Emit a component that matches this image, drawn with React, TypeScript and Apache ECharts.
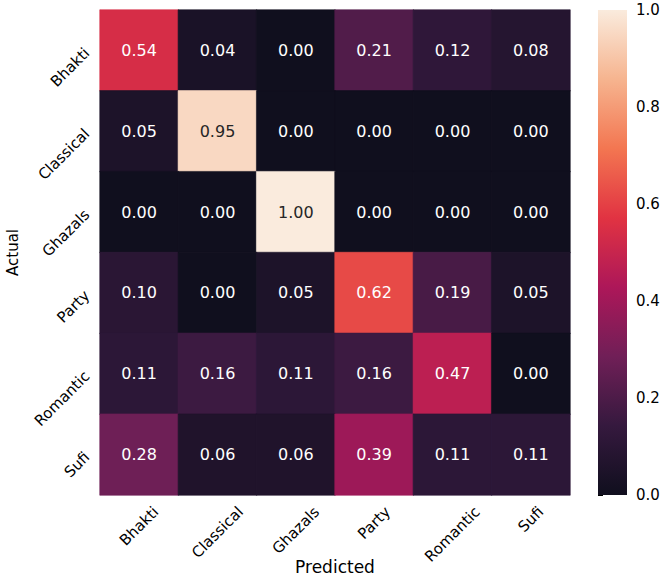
import React, { useEffect, useRef } from "react";
import * as echarts from "echarts";

// Confusion matrix of genre predictions (row-normalised)
const categories = ["Bhakti", "Classical", "Ghazals", "Party", "Romantic", "Sufi"];
const rowBhakti = [0.54, 0.04, 0.0, 0.21, 0.12, 0.08];
const rowClassical = [0.05, 0.95, 0.0, 0.0, 0.0, 0.0];
const rowGhazals = [0.0, 0.0, 1.0, 0.0, 0.0, 0.0];
const rowParty = [0.1, 0.0, 0.05, 0.62, 0.19, 0.05];
const rowRomantic = [0.11, 0.16, 0.11, 0.16, 0.47, 0.0];
const rowSufi = [0.28, 0.06, 0.06, 0.39, 0.11, 0.11];
const matrix = [rowBhakti, rowClassical, rowGhazals, rowParty, rowRomantic, rowSufi];

const colorbarTicks = [0, 0.2, 0.4, 0.6, 0.8, 1.0];

// "rocket"-style sequential palette, evenly spaced from 0 to 1
const rocket = ["#100f1e", "#35193e", "#701f57", "#ad1759", "#e13342", "#f37651", "#f6b48f", "#faebdd"];

const FONT = "DejaVu Sans";
const TICK_SIZE = 15;

function measure(text: string, size: number): number {
  const c = document.createElement("canvas");
  const ctx = c.getContext("2d");
  if (!ctx) return text.length * size * 0.6;
  ctx.font = `${size}px "${FONT}"`;
  return ctx.measureText(text).width;
}

export default function App() {
  const ref = useRef<HTMLDivElement>(null);

  useEffect(() => {
    if (!ref.current) return;
    const chart = echarts.init(ref.current, undefined, { renderer: "svg" });

    const cells: any[] = [];
    matrix.forEach((row, r) => {
      row.forEach((v, c) => {
        // a hairline border in the cell's own colour hides anti-aliasing seams between cells
        const edge = echarts.color.lerp(v, rocket) as string;
        cells.push({
          value: [c, r, v],
          itemStyle: { borderColor: edge, borderWidth: 0.6 },
          label: { color: v > 0.8 ? "#262626" : "#ffffff" },
        });
      });
    });

    const labelWidths = categories.map((name) => measure(name, TICK_SIZE));
    const gradientStops = rocket.map((color, i) => ({ offset: i / (rocket.length - 1), color }));

    chart.setOption({
      animation: false,
      backgroundColor: "#ffffff",
      textStyle: { fontFamily: FONT },
      grid: [
        { left: 100, top: 10, width: 470, height: 485, outerBoundsMode: "none", containLabel: false },
        { left: 598, top: 10, width: 29, height: 485, outerBoundsMode: "none", containLabel: false },
      ],
      xAxis: [
        {
          type: "category",
          gridIndex: 0,
          data: categories,
          name: "Predicted",
          nameLocation: "middle",
          nameGap: 63,
          nameTextStyle: { fontSize: 17, color: "#000", fontFamily: FONT },
          axisLine: { show: false },
          axisTick: { show: false },
          splitLine: { show: false },
          // tick names are drawn by the label series below, centred under each column
          axisLabel: { show: false },
        },
        { type: "value", gridIndex: 1, min: 0, max: 1, show: false },
      ],
      yAxis: [
        {
          type: "category",
          gridIndex: 0,
          inverse: true,
          data: categories,
          name: "Actual",
          nameLocation: "middle",
          nameGap: 80,
          nameTextStyle: { fontSize: 15, color: "#000", fontFamily: FONT },
          axisLine: { show: false },
          axisTick: { show: false },
          splitLine: { show: false },
          axisLabel: {
            interval: 0,
            rotate: 45,
            margin: 13,
            fontSize: TICK_SIZE,
            color: "#000",
            fontFamily: FONT,
          },
        },
        {
          type: "value",
          gridIndex: 1,
          min: 0,
          max: 1,
          interval: 0.2,
          position: "right",
          axisLine: { show: false },
          axisTick: { show: true, length: 5, lineStyle: { color: "#000", width: 1 } },
          splitLine: { show: false },
          axisLabel: {
            margin: 9,
            fontSize: TICK_SIZE,
            color: "#000",
            fontFamily: FONT,
            formatter: (v: number) => (colorbarTicks.some((t) => Math.abs(t - v) < 1e-9) ? v.toFixed(1) : ""),
          },
        },
      ],
      visualMap: {
        type: "continuous",
        show: false,
        min: 0,
        max: 1,
        dimension: 2,
        seriesIndex: 0,
        inRange: { color: rocket },
      },
      series: [
        {
          type: "heatmap",
          xAxisIndex: 0,
          yAxisIndex: 0,
          data: cells,
          label: {
            show: true,
            fontSize: 16,
            fontFamily: FONT,
            formatter: (p: any) => (p.value[2] as number).toFixed(2),
          },
        },
        {
          // colour bar
          type: "custom",
          xAxisIndex: 1,
          yAxisIndex: 1,
          data: [[0, 0, 1, 1]],
          silent: true,
          renderItem: (_params: any, api: any) => {
            const p0 = api.coord([api.value(0), api.value(1)]);
            const p1 = api.coord([api.value(2), api.value(3)]);
            return {
              type: "rect",
              shape: { x: p0[0], y: p1[1], width: p1[0] - p0[0], height: p0[1] - p1[1] },
              style: { fill: new echarts.graphic.LinearGradient(0, 1, 0, 0, gradientStops) },
            };
          },
        },
        {
          // x tick names, rotated 45° with their bounding box centred under the column
          type: "custom",
          xAxisIndex: 0,
          yAxisIndex: 0,
          clip: false,
          silent: true,
          data: categories.map((_, i) => [i, categories.length - 1]),
          renderItem: (params: any, api: any) => {
            const i = api.value(0);
            const c = api.coord([i, api.value(1)]);
            const s = api.size([1, 1]);
            const bottom = c[1] + s[1] / 2;
            const L = labelWidths[params.dataIndex];
            const h = TICK_SIZE;
            const cy = bottom + 9 + 0.3536 * (L + h);
            return {
              type: "text",
              x: c[0],
              y: cy,
              rotation: Math.PI / 4,
              style: {
                text: categories[params.dataIndex],
                fill: "#000",
                fontSize: TICK_SIZE,
                fontFamily: FONT,
                align: "center",
                verticalAlign: "middle",
              },
            };
          },
        },
      ],
    });

    return () => chart.dispose();
  }, []);

  return (
    <div
      ref={ref}
      style={{ position: "absolute", left: 0, top: 0, width: 664, height: 580 }}
    />
  );
}
